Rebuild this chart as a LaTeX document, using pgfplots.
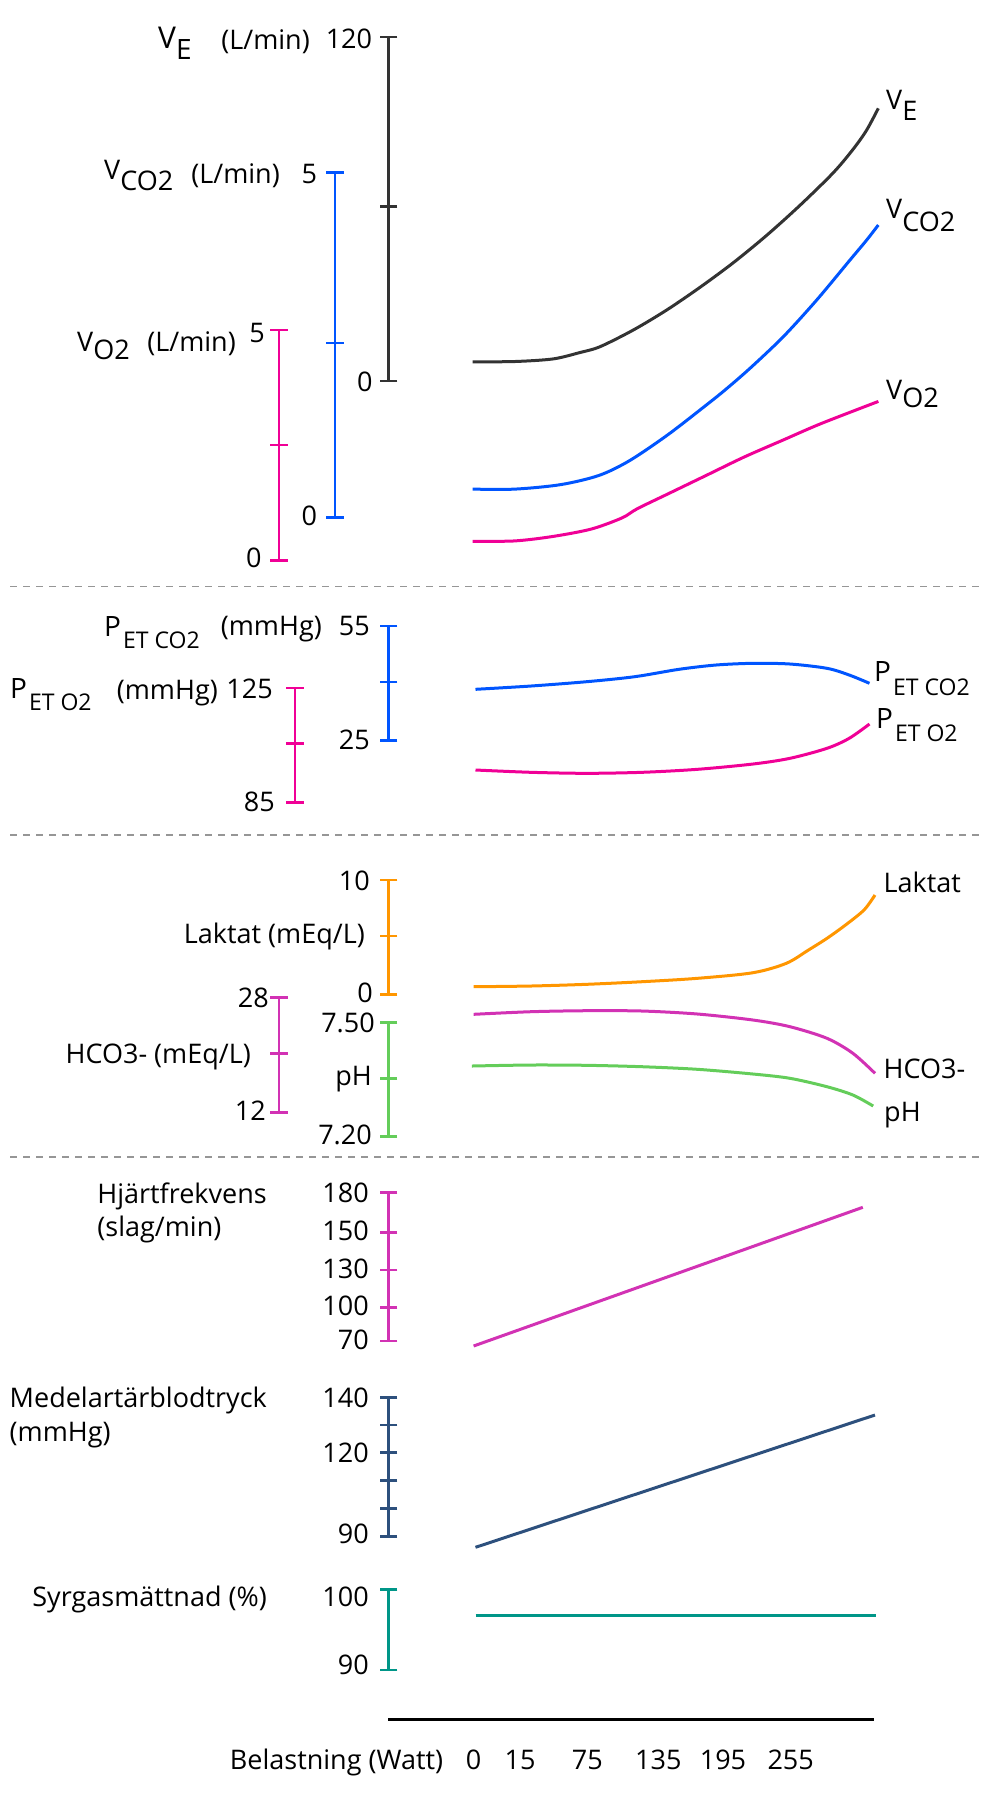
\documentclass[border=0pt]{standalone}
\usepackage{fontspec}
\setmainfont{Open Sans}
\usepackage{pgfplots}
\pgfplotsset{compat=1.18}
\definecolor{cVE}{RGB}{51,51,51}
\definecolor{cBlue}{RGB}{0,85,255}
\definecolor{cMag}{RGB}{240,0,150}
\definecolor{cOrange}{RGB}{255,150,0}
\definecolor{cPurp}{RGB}{210,50,180}
\definecolor{cGreen}{RGB}{100,205,90}
\definecolor{cNavy}{RGB}{45,80,125}
\definecolor{cTeal}{RGB}{0,150,136}
\definecolor{cDash}{RGB}{150,150,150}
\newcommand{\Vlab}[2]{{\fontsize{27bp}{32bp}\selectfont V\raisebox{-#1}{#2}}}
\newcommand{\Plab}[2]{{\fontsize{28bp}{32bp}\selectfont P\hspace{2bp}\raisebox{-#1}{\fontsize{23bp}{27bp}\selectfont #2}}}
\begin{document}
\begin{tikzpicture}[every node/.style={inner sep=0pt, font=\fontsize{27bp}{32bp}\selectfont}]
\useasboundingbox (0,0) rectangle (1000bp,1793bp);
\begin{axis}[at={(0,0)}, anchor=south west, width=1000bp, height=1793bp, scale only axis,
  xmin=0, xmax=1000, ymin=0, ymax=1793, y dir=reverse, hide axis, clip=false,
  scl/.style={line width=2.7bp, mark=-, mark size=8.8bp, mark options={solid}},
  crv/.style={line width=3bp, smooth, no markers}]

% separators
\addplot[cDash, line width=1.5bp, dash pattern=on 7bp off 6bp] coordinates {(10,586.7)(979,586.7)};
\addplot[cDash, line width=1.5bp, dash pattern=on 7bp off 6bp] coordinates {(10,835)(979,835)};
\addplot[cDash, line width=1.5bp, dash pattern=on 7bp off 6bp] coordinates {(10,1157)(979,1157)};
\addplot[black, line width=3bp] coordinates {(388,1719.3)(874.3,1719.3)};

% scales
\addplot[cVE, scl] coordinates {(388.5,37)(388.5,206.4)(388.5,381)};
\addplot[cBlue, scl] coordinates {(335,172.4)(335,343)(335,517.2)};
\addplot[cMag, scl] coordinates {(279,330)(279,445)(279,560.8)};
\addplot[cBlue, scl] coordinates {(388.5,626)(388.5,682)(388.5,740.7)};
\addplot[cMag, scl] coordinates {(295,688)(295,743.7)(295,802.3)};
\addplot[cOrange, scl] coordinates {(388.5,880)(388.5,936)(388.5,994.3)};
\addplot[cPurp, scl] coordinates {(279,997.7)(279,1053.3)(279,1112.3)};
\addplot[cGreen, scl] coordinates {(388.5,1022.7)(388.5,1078.3)(388.5,1136.7)};
\addplot[cPurp, scl] coordinates {(388.5,1192.7)(388.5,1232.7)(388.5,1270)(388.5,1307.3)(388.5,1341)};
\addplot[cNavy, scl] coordinates {(388.5,1397.3)(388.5,1425)(388.5,1452.7)(388.5,1480.7)(388.5,1508.3)(388.5,1536.7)};
\addplot[cTeal, scl] coordinates {(388.5,1589.3)(388.5,1670)};

% curves
\addplot[cVE, crv] coordinates {(472.7,361.8)(514.8,361.5)(553.1,358.9)(580,352.5)(600,346.7)(633.3,330)(666.7,310)(700,287.3)(733.3,262.7)(766.7,235.3)(800,205.3)(833.3,172.7)(853.3,149)(866.7,130)(878.3,108.3)};
\addplot[cBlue, crv] coordinates {(472.7,489.1)(514.8,489.1)(560.7,484.6)(599,475.4)(629.6,460.6)(667.9,434.7)(706.2,405.1)(725,390)(750,368.3)(783.3,336.7)(816.7,300)(850,260)(866.7,240)(878.3,225)};
\addplot[cMag, crv] coordinates {(472.7,541.3)(514.8,540.9)(553.1,536.4)(591.4,529)(622,517.9)(637.3,508.7)(667.9,493.9)(706.2,475.4)(744.4,456.9)(782.7,440.2)(821,423.6)(878.4,401.4)};
\addplot[cBlue, crv] coordinates {(475.5,689.3)(531,686)(586.5,681.7)(634.6,676.7)(679,669.3)(716,665)(753,663.3)(790,664)(827,668.3)(849.2,675)(869.5,683.3)};
\addplot[cMag, crv] coordinates {(475.5,770)(531,772.3)(586.5,773.3)(642,772.3)(697.5,769.3)(753,764)(790,758.3)(827,748.3)(849.2,738.3)(869.5,724)};
\addplot[cOrange, crv] coordinates {(473.6,986.7)(531,986)(586.5,984.3)(642,981.7)(697.5,978.3)(753,972.7)(786.3,963.3)(808.5,950)(827,938.3)(845.5,925)(864,910)(875,895)};
\addplot[cPurp, crv] coordinates {(473.6,1014.3)(531,1011.7)(586.5,1010.7)(642,1011)(697.5,1014)(753,1020)(790,1026.7)(827,1038.3)(852.9,1053.3)(875,1073.3)};
\addplot[cGreen, crv] coordinates {(471.8,1066)(531,1065)(586.5,1065.3)(642,1066.7)(697.5,1069.3)(753,1074)(790,1078.3)(827,1086.7)(852.9,1095)(873.2,1106)};
\addplot[cPurp, line width=3bp] coordinates {(473.6,1346)(862.8,1207.3)};
\addplot[cNavy, line width=3bp] coordinates {(475.5,1547.3)(875,1415)};
\addplot[cTeal, line width=3bp] coordinates {(475.5,1615.7)(875.8,1615.7)};

% top panel labels
\node[anchor=base west] at (axis cs:158,48.1) {{\fontsize{30bp}{34bp}\selectfont V\raisebox{-11.1bp}{\fontsize{28bp}{32bp}\selectfont E}}};
\node[anchor=base east] at (axis cs:310,49.2) {(L/min)};
\node[anchor=base east] at (axis cs:372.3,48.1) {120};
\node[anchor=base west] at (axis cs:104,179.4) {\Vlab{11.1bp}{CO2}};
\node[anchor=base east] at (axis cs:280,183) {(L/min)};
\node[anchor=base east] at (axis cs:317.3,183.9) {5};
\node[anchor=base west] at (axis cs:77,351.5) {\Vlab{8.1bp}{O2}};
\node[anchor=base east] at (axis cs:236,351.5) {(L/min)};
\node[anchor=base east] at (axis cs:265,342.2) {5};
\node[anchor=base east] at (axis cs:261.7,567.9) {0};
\node[anchor=base east] at (axis cs:317.3,525.3) {0};
\node[anchor=base east] at (axis cs:372.7,391.4) {0};
\node[anchor=base west] at (axis cs:886,109.1) {\Vlab{11.1bp}{E}};
\node[anchor=base west] at (axis cs:886,218.3) {\Vlab{12.9bp}{CO2}};
\node[anchor=base west] at (axis cs:886,399.6) {\Vlab{7.4bp}{O2}};

% panel 2 labels
\node[anchor=base west] at (axis cs:104,636.7) {\Plab{11.6bp}{ET CO2}};
\node[anchor=base east] at (axis cs:322,635) {(mmHg)};
\node[anchor=base east] at (axis cs:370,635.7) {55};
\node[anchor=base east] at (axis cs:370,749) {25};
\node[anchor=base west] at (axis cs:10,698.3) {\Plab{11.7bp}{ET O2}};
\node[anchor=base east] at (axis cs:218,699) {(mmHg)};
\node[anchor=base east] at (axis cs:273,698) {125};
\node[anchor=base east] at (axis cs:275,811.7) {85};
\node[anchor=base west] at (axis cs:874,681.7) {\Plab{13.3bp}{ET CO2}};
\node[anchor=base west] at (axis cs:876,728.3) {\Plab{13.4bp}{ET O2}};

% panel 3 labels
\node[anchor=base east] at (axis cs:370,890.7) {10};
\node[anchor=base east] at (axis cs:365,943.3) {Laktat (mEq/L)};
\node[anchor=base east] at (axis cs:373,1002.3) {0};
\node[anchor=base east] at (axis cs:269,1007.3) {28};
\node[anchor=base east] at (axis cs:251,1063.3) {HCO3- (mEq/L)};
\node[anchor=base east] at (axis cs:266,1120) {12};
\node[anchor=base east] at (axis cs:375,1032.7) {7.50};
\node[anchor=base east] at (axis cs:372,1085) {pH};
\node[anchor=base east] at (axis cs:372,1144.3) {7.20};
\node[anchor=base west] at (axis cs:883.5,892.7) {Laktat};
\node[anchor=base west] at (axis cs:883.5,1078.3) {HCO3-};
\node[anchor=base west] at (axis cs:884,1121.7) {pH};

% panel 4 labels
\node[anchor=base east] at (axis cs:369,1202.7) {180};
\node[anchor=base east] at (axis cs:369,1240.7) {150};
\node[anchor=base east] at (axis cs:369,1278) {130};
\node[anchor=base east] at (axis cs:369,1315) {100};
\node[anchor=base east] at (axis cs:369,1349) {70};
\node[anchor=base east] (hj) at (axis cs:267,1203.3) {Hjärtfrekvens};
\node[anchor=base west] at ([yshift=-32.7bp]hj.base west) {(slag/min)};
\node[anchor=base east] at (axis cs:369,1407.3) {140};
\node[anchor=base east] at (axis cs:369,1462.7) {120};
\node[anchor=base east] at (axis cs:369,1543.3) {90};
\node[anchor=base east] (map) at (axis cs:267,1407.7) {Medelartärblodtryck};
\node[anchor=base west] at ([yshift=-33.3bp]map.base west) {(mmHg)};
\node[anchor=base east] at (axis cs:267,1606.7) {Syrgasmättnad (\%)};
\node[anchor=base east] at (axis cs:369,1606.7) {100};
\node[anchor=base east] at (axis cs:369,1674) {90};

% x axis labels
\node[anchor=base east] at (axis cs:443.3,1769.3) {Belastning (Watt)};
\node[anchor=base] at (axis cs:473.6,1769.3) {0};
\node[anchor=base] at (axis cs:520,1769.3) {15};
\node[anchor=base] at (axis cs:587.4,1769.3) {75};
\node[anchor=base] at (axis cs:658.3,1769.3) {135};
\node[anchor=base] at (axis cs:723,1769.3) {195};
\node[anchor=base] at (axis cs:790.7,1769.3) {255};
\end{axis}
\end{tikzpicture}
\end{document}
